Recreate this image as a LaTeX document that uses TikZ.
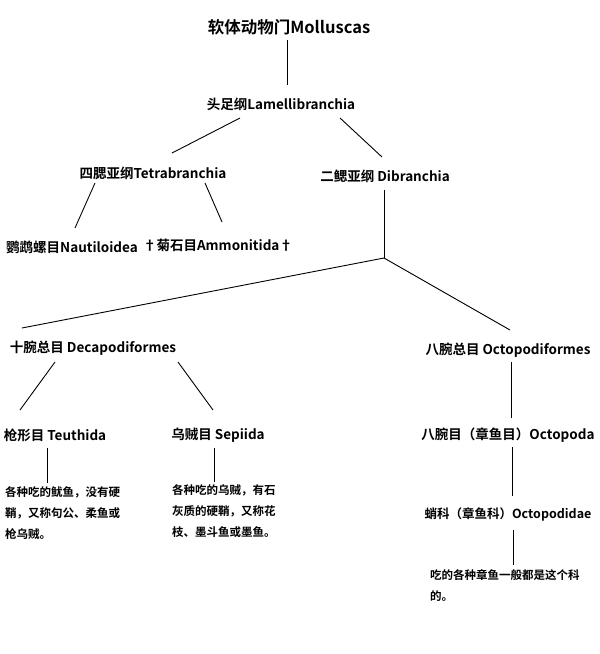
\documentclass[tikz,border=0pt]{standalone}
\usepackage{fontspec}
\setmainfont{Noto Sans CJK SC}[BoldFont={* Bold}]
\begin{document}
\begin{tikzpicture}[x=1pt,y=-1pt,
  lab/.style={font=\bfseries\fontsize{13.5}{15}\selectfont,inner sep=1pt},
  desc/.style={font=\fontsize{11.5}{21}\selectfont\bfseries,align=left,anchor=north west,inner sep=0pt},
  ln/.style={line width=0.9pt}]
\useasboundingbox (0,0) rectangle (600,654);
\fill[white] (0,0) rectangle (600,654);
\node[lab,font=\bfseries\fontsize{16.5}{18}\selectfont] (mol) at (289,27) {软体动物门Molluscas};
\node[lab] (lam) at (281,104) {头足纲Lamellibranchia};
\node[lab] (tet) at (153,173) {四腮亚纲Tetrabranchia};
\node[lab] (dib) at (385,176) {二鳃亚纲 Dibranchia};
\node[lab] (nau) at (72,247) {鹦鹉螺目Nautiloidea};
\node[lab] (amm) at (218,245) {†菊石目Ammonitida†};
\node[lab] (dec) at (93,348) {十腕总目 Decapodiformes};
\node[lab] (oct) at (508,350) {八腕总目 Octopodiformes};
\node[lab] (teu) at (55,435) {枪形目 Teuthida};
\node[lab] (sep) at (218,435) {乌贼目 Sepiida};
\node[lab] (opa) at (508,435) {八腕目（章鱼目）Octopoda};
\node[lab,font=\bfseries\fontsize{12.5}{14}\selectfont] (opd) at (508,514) {蛸科（章鱼科）Octopodidae};
\node[desc] (dteu) at (5,486) {各种吃的鱿鱼，没有硬\\鞘，又称句公、柔鱼或\\枪乌贼。};
\node[desc] (dsep) at (172,484) {各种吃的乌贼，有石\\灰质的硬鞘，又称花\\枝、墨斗鱼或墨鱼。};
\node[desc] (dopd) at (430,569) {吃的各种章鱼一般都是这个科\\的。};
\coordinate (j) at (384,258);
\draw[ln] (287,40) -- (287,85);
\draw[ln] (240,118) -- (172,153);
\draw[ln] (340,118) -- (382,157);
\draw[ln] (95,183) -- (75,228);
\draw[ln] (205,183) -- (222,222);
\draw[ln] (384,190) -- (j);
\draw[ln] (j) -- (22,328);
\draw[ln] (j) -- (510,330);
\draw[ln] (55,362) -- (20,410);
\draw[ln] (178,362) -- (213,410);
\draw[ln] (511,362) -- (511,418);
\draw[ln] (512,447) -- (512,496);
\draw[ln] (513,530) -- (513,565);
\draw[ln] (47,448) -- (47,483);
\draw[ln] (214,448) -- (214,482);
\end{tikzpicture}
\end{document}
